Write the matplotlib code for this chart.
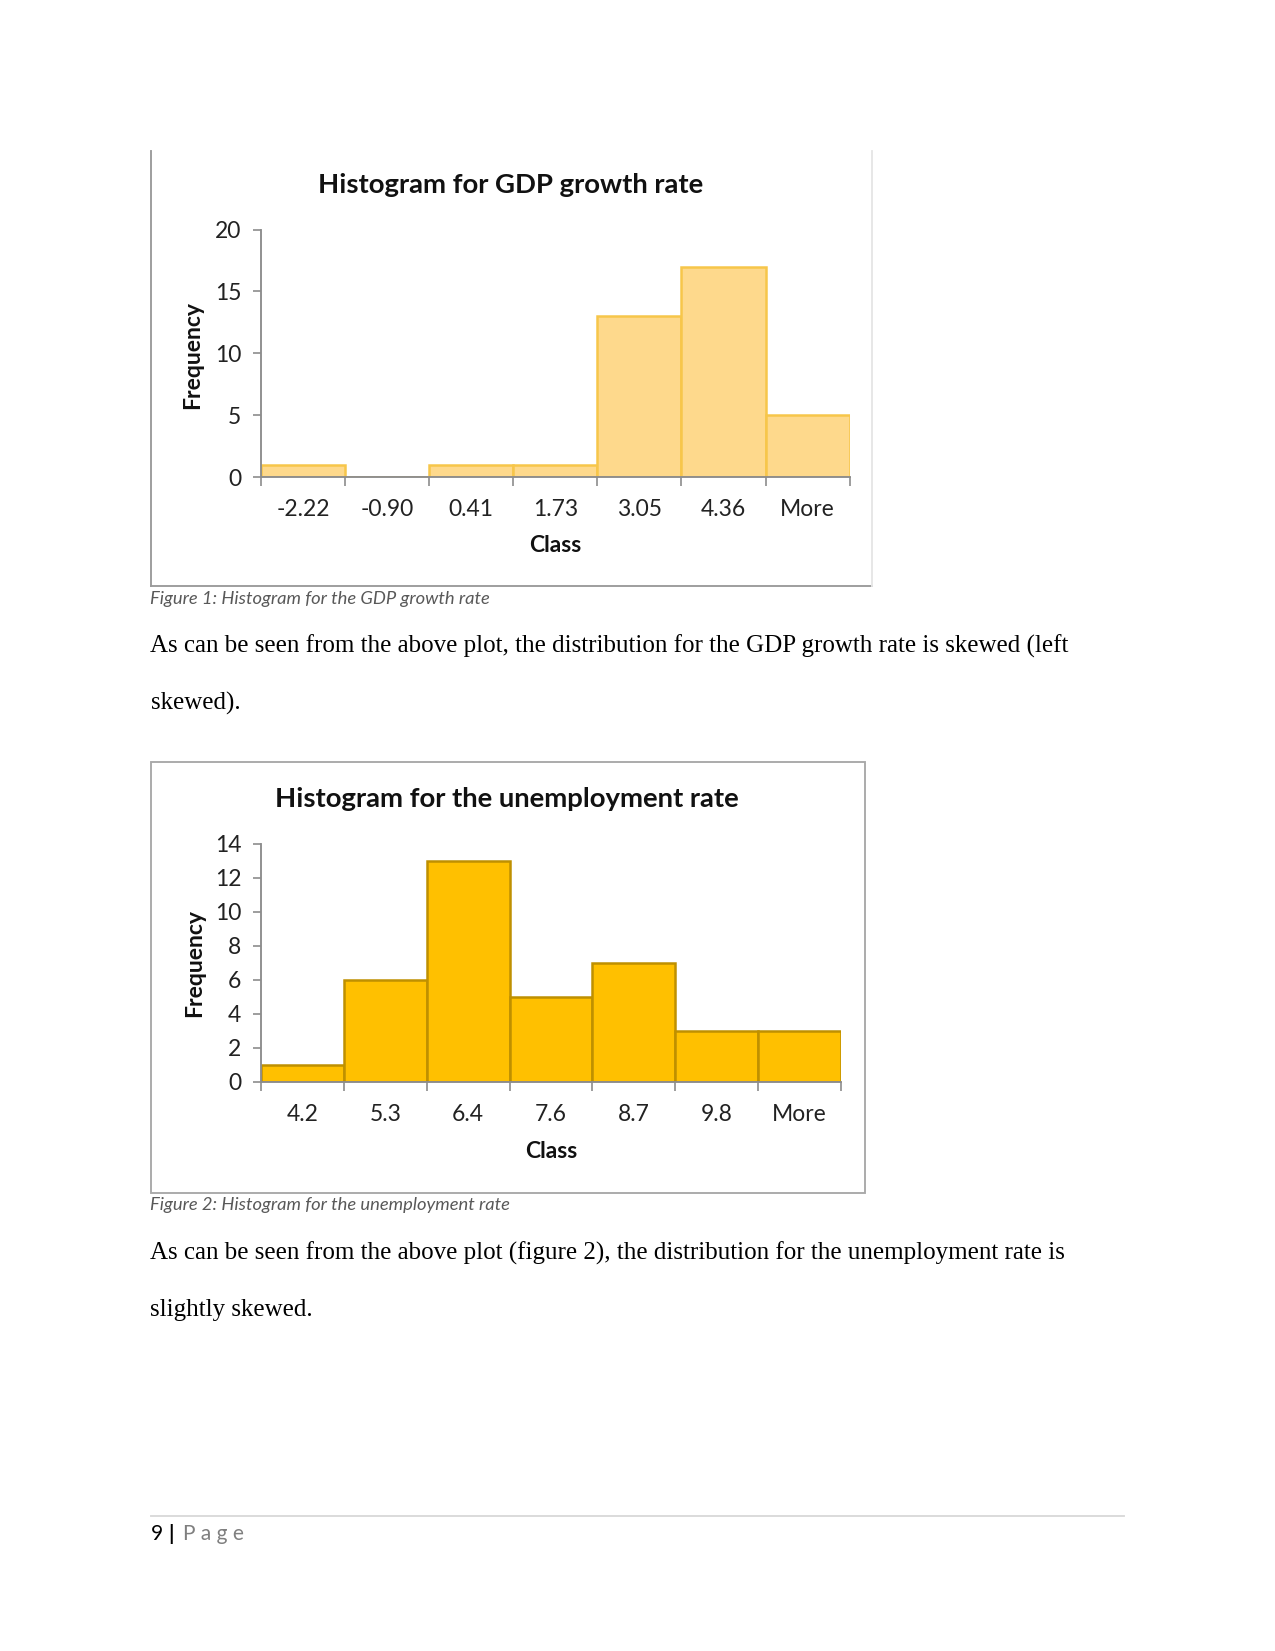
import matplotlib
matplotlib.use("Agg")
import matplotlib.pyplot as plt
from matplotlib.patches import Rectangle
from matplotlib.lines import Line2D

# ---------------- data ----------------
gdp_classes = ["-2.22", "-0.90", "0.41", "1.73", "3.05", "4.36", "More"]
gdp_freq = [1, 0, 1, 1, 13, 17, 5]
gdp_yticks = [0, 5, 10, 15, 20]

unemp_classes = ["4.2", "5.3", "6.4", "7.6", "8.7", "9.8", "More"]
unemp_freq = [1, 6, 13, 5, 7, 3, 3]
unemp_yticks = [0, 2, 4, 6, 8, 10, 12, 14]

W, H = 1275, 1651
DPI = 150
fig = plt.figure(figsize=(W / DPI, H / DPI), dpi=DPI)
fig.patch.set_facecolor("white")

CHART_FONT = "Lato"
BODY_FONT = "Liberation Serif"


def fx(px):
    return px / W


def fy(py):
    return 1 - py / H


def ftext(x, y, s, **kw):
    fig.text(fx(x), fy(y), s, **kw)


def fline(x0, y0, x1, y1, color, lw=0.9):
    fig.add_artist(Line2D([fx(x0), fx(x1)], [fy(y0), fy(y1)], transform=fig.transFigure,
                          color=color, linewidth=lw))


def hist_axes(left, right, ybot, ytop, classes, freq, yticks, fc, ec):
    ax = fig.add_axes([fx(left), fy(ybot), fx(right) - fx(left), fy(ytop) - fy(ybot)])
    n = len(classes)
    xs = list(range(n))
    ax.bar(xs, freq, width=1.0, color=fc, edgecolor=ec, linewidth=1.2, zorder=2)
    ax.set_xlim(-0.5, n - 0.5)
    ax.set_ylim(yticks[0], yticks[-1])
    ax.set_yticks(yticks)
    ax.set_yticklabels([str(t) for t in yticks], fontfamily=CHART_FONT, fontsize=11,
                       color="#222222")
    ax.set_xticks(xs)
    ax.set_xticklabels(classes, fontfamily=CHART_FONT, fontsize=11, color="#222222")
    ax.set_xticks([i - 0.5 for i in range(n + 1)], minor=True)
    ax.tick_params(axis="x", which="major", length=0, pad=10.5)
    ax.tick_params(axis="x", which="minor", length=4.5, color="#8c8c8c", width=0.8)
    ax.tick_params(axis="y", length=4, color="#8c8c8c", width=0.8, pad=5.5)
    for s in ["top", "right"]:
        ax.spines[s].set_visible(False)
    for s in ["left", "bottom"]:
        ax.spines[s].set_color("#8c8c8c")
        ax.spines[s].set_linewidth(0.9)
    ax.spines["bottom"].set_zorder(3)
    ax.set_facecolor("none")
    return ax


# ---------------- chart 1 ----------------
fline(150.5, 150.5, 150.5, 586.4, "#9a9a9a")
fline(150.5, 586.4, 871.7, 586.4, "#9a9a9a")
fline(871.7, 150.5, 871.7, 586.4, "#e6e6e6")
hist_axes(261, 849.6, 477, 229.5, gdp_classes, gdp_freq, gdp_yticks,
          fc="#fed98c", ec="#f7c64a")
ftext(510.6, 185, "Histogram for GDP growth rate", fontfamily=CHART_FONT,
      fontweight="bold", fontsize=13.2, ha="center", va="center", color="#111111")
ftext(555, 545, "Class", fontfamily=CHART_FONT, fontweight="bold", fontsize=11,
      ha="center", va="center", color="#111111")
ftext(192.7, 354.8, "Frequency", fontfamily=CHART_FONT, fontweight="bold", fontsize=11,
      ha="center", va="center", rotation=90, color="#111111")
ftext(150.5, 599, "Figure 1: Histogram for the GDP growth rate", fontfamily=CHART_FONT,
      fontstyle="italic", fontsize=8.8, ha="left", va="center", color="#595959")
ftext(150.5, 646, "As can be seen from the above plot, the distribution for the GDP growth rate is skewed (left",
      fontfamily=BODY_FONT, fontsize=12, ha="left", va="center", color="black")
ftext(150.5, 703, "skewed).", fontfamily=BODY_FONT, fontsize=12, ha="left", va="center",
      color="black")

# ---------------- chart 2 ----------------
fig.add_artist(Rectangle((fx(150.5), fy(1192.8)), fx(865.4) - fx(150.5), fy(762) - fy(1192.8),
                         transform=fig.transFigure, fill=False, edgecolor="#a8a8a8",
                         linewidth=0.9))
hist_axes(261, 841, 1082, 844, unemp_classes, unemp_freq, unemp_yticks,
          fc="#ffc000", ec="#bf9000")
ftext(507, 799, "Histogram for the unemployment rate", fontfamily=CHART_FONT,
      fontweight="bold", fontsize=13.2, ha="center", va="center", color="#111111")
ftext(551, 1151, "Class", fontfamily=CHART_FONT, fontweight="bold", fontsize=11,
      ha="center", va="center", color="#111111")
ftext(194.8, 963, "Frequency", fontfamily=CHART_FONT, fontweight="bold", fontsize=11,
      ha="center", va="center", rotation=90, color="#111111")
ftext(150.5, 1205, "Figure 2: Histogram for the unemployment rate", fontfamily=CHART_FONT,
      fontstyle="italic", fontsize=8.8, ha="left", va="center", color="#595959")
ftext(150.5, 1253, "As can be seen from the above plot (figure 2), the distribution for the unemployment rate is",
      fontfamily=BODY_FONT, fontsize=12, ha="left", va="center", color="black")
ftext(150.5, 1310, "slightly skewed.", fontfamily=BODY_FONT, fontsize=12, ha="left",
      va="center", color="black")

# ---------------- footer ----------------
fline(150.5, 1516, 1124, 1516, "#d9d9d9")
ftext(150.5, 1534, "9", fontfamily=CHART_FONT, fontsize=10, ha="left", va="center",
      color="black")
ftext(168, 1534, "|", fontfamily=CHART_FONT, fontsize=10, fontweight="bold", ha="left",
      va="center", color="black")
ftext(183, 1534, "P a g e", fontfamily=CHART_FONT, fontsize=10, ha="left", va="center",
      color="#7f7f7f")

fig.savefig("out.png", dpi=DPI, facecolor="white")
